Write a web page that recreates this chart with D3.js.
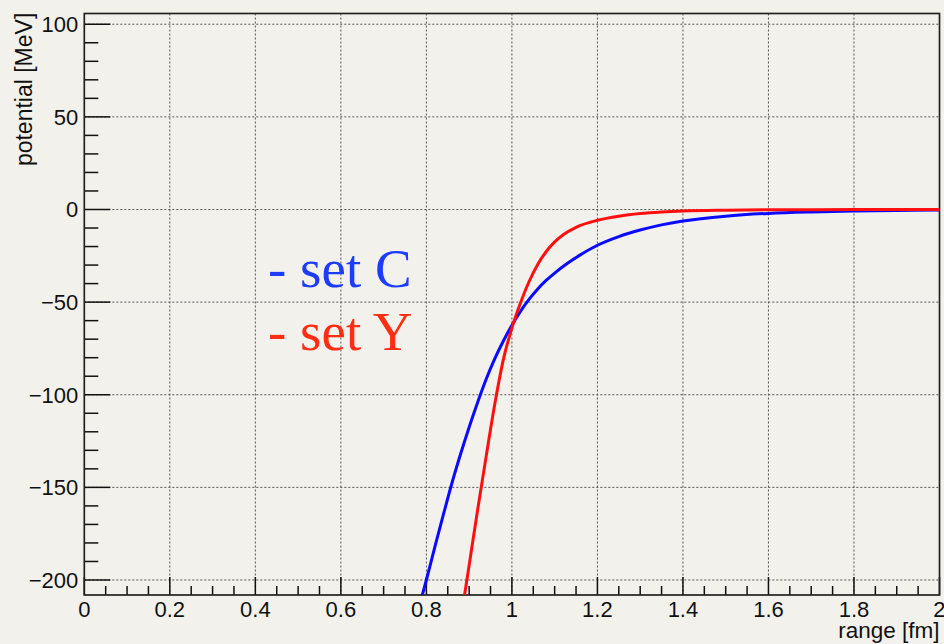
<!DOCTYPE html>
<html>
<head>
<meta charset="utf-8">
<script src="https://cdn.jsdelivr.net/npm/d3@7"></script>
<style>
  body { margin: 0; background: #f3f1ec; }
  svg { display: block; }
</style>
</head>
<body>
<div id="chart"></div>
<script>
// set C (blue)
var setCx = [0.79, 0.80, 0.82, 0.84, 0.86, 0.88, 0.90, 0.92, 0.94, 0.96, 0.98, 1.00, 1.02, 1.04, 1.06, 1.08, 1.10, 1.13, 1.16, 1.20, 1.25, 1.30, 1.35, 1.40, 1.50, 1.60, 1.70, 1.80, 1.90, 2.00];
var setCy = [-208.5, -200, -182, -164.5, -147.5, -132, -117.5, -104, -91.5, -80.5, -71, -62.5, -55, -48.5, -43, -38.3, -34.3, -29, -24.5, -19.3, -14.6, -11.1, -8.3, -6.2, -3.6, -2.1, -1.3, -0.8, -0.5, -0.3];
// set Y (red)
var setYx = [0.88, 0.90, 0.92, 0.94, 0.96, 0.98, 1.00, 1.02, 1.04, 1.06, 1.08, 1.10, 1.12, 1.15, 1.20, 1.25, 1.30, 1.35, 1.40, 1.50, 1.60, 1.80, 2.00];
var setYy = [-222, -192, -162, -133, -105, -81, -64, -50.5, -39, -29.8, -22.8, -17.5, -13.6, -9.6, -5.8, -3.6, -2.2, -1.35, -0.8, -0.35, -0.15, -0.04, 0];

var xTicks = [0, 0.2, 0.4, 0.6, 0.8, 1, 1.2, 1.4, 1.6, 1.8, 2];
var yTicks = [-200, -150, -100, -50, 0, 50, 100];
var legendLabels = ["- set C", "- set Y"];

var width = 944, height = 644;
var margin = {top: 13.5, right: 4.5, bottom: 49, left: 84.3};
var w = width - margin.left - margin.right,
    h = height - margin.top - margin.bottom;

var svg = d3.select("#chart")
  .append("svg")
  .attr("width", width)
  .attr("height", height);

var g = svg.append("g")
  .attr("transform", "translate(" + margin.left + "," + margin.top + ")");

var x = d3.scaleLinear().domain([0, 2]).range([0, w]),
    y = d3.scaleLinear().domain([-208.1, 105.8]).range([h, 0]);

// grid
g.append("g").selectAll("line")
  .data(xTicks.slice(1, -1))
  .enter().append("line")
  .attr("x1", function (d) { return x(d); })
  .attr("x2", function (d) { return x(d); })
  .attr("y1", 0).attr("y2", h)
  .attr("stroke", "#555").attr("stroke-width", 1)
  .attr("stroke-dasharray", "2,2");

g.append("g").selectAll("line")
  .data(yTicks)
  .enter().append("line")
  .attr("y1", function (d) { return y(d); })
  .attr("y2", function (d) { return y(d); })
  .attr("x1", 0).attr("x2", w)
  .attr("stroke", "#555").attr("stroke-width", 1)
  .attr("stroke-dasharray", "2,2");

// minor/major ticks inside the frame
var xMinor = d3.range(0, 2.001, 0.05);
g.append("g").selectAll("line")
  .data(xMinor)
  .enter().append("line")
  .attr("x1", function (d) { return x(d); })
  .attr("x2", function (d) { return x(d); })
  .attr("y1", h)
  .attr("y2", function (d, i) { return h - (i % 4 === 0 ? 18 : 9); })
  .attr("stroke", "#111").attr("stroke-width", 1.5);

var yMinor = d3.range(-200, 100.1, 10);
g.append("g").selectAll("line")
  .data(yMinor)
  .enter().append("line")
  .attr("y1", function (d) { return y(d); })
  .attr("y2", function (d) { return y(d); })
  .attr("x1", 0)
  .attr("x2", function (d) { return d % 50 === 0 ? 26 : 14; })
  .attr("stroke", "#111").attr("stroke-width", 1.5);

// frame
g.append("rect")
  .attr("width", w).attr("height", h)
  .attr("fill", "none")
  .attr("stroke", "#222").attr("stroke-width", 1.7);

// tick labels
g.append("g").selectAll("text")
  .data(xTicks)
  .enter().append("text")
  .attr("x", function (d) { return x(d); })
  .attr("y", h + 22)
  .attr("text-anchor", "middle")
  .style("font", "22px 'Liberation Sans', Arial, sans-serif")
  .attr("fill", "#111")
  .text(function (d) { return String(d); });

g.append("g").selectAll("text")
  .data(yTicks)
  .enter().append("text")
  .attr("x", -6)
  .attr("y", function (d) { return y(d); })
  .attr("dy", "0.36em")
  .attr("text-anchor", "end")
  .style("font", "22px 'Liberation Sans', Arial, sans-serif")
  .attr("fill", "#111")
  .text(function (d) { return d < 0 ? "\u2212" + Math.abs(d) : String(d); });

// axis titles
svg.append("text")
  .attr("x", margin.left + w)
  .attr("y", 638)
  .attr("text-anchor", "end")
  .style("font", "22.5px 'Liberation Sans', Arial, sans-serif")
  .attr("fill", "#111")
  .text("range [fm]");

svg.append("text")
  .attr("transform", "translate(31.5,12.7) rotate(-90)")
  .attr("text-anchor", "end")
  .style("font", "23px 'Liberation Sans', Arial, sans-serif")
  .attr("fill", "#111")
  .text("potential [MeV]");

// curves
var line = d3.line()
  .curve(d3.curveMonotoneX)
  .x(function (d) { return x(d[0]); })
  .y(function (d) { return y(d[1]); });

g.append("clipPath").attr("id", "clip")
  .append("rect").attr("width", w).attr("height", h);

g.append("path")
  .datum(setCx.map(function (v, i) { return [v, setCy[i]]; }))
  .attr("clip-path", "url(#clip)")
  .attr("fill", "none")
  .attr("stroke", "#0a0aff")
  .attr("stroke-width", 3)
  .attr("d", line);

g.append("path")
  .datum(setYx.map(function (v, i) { return [v, setYy[i]]; }))
  .attr("clip-path", "url(#clip)")
  .attr("fill", "none")
  .attr("stroke", "#ff1010")
  .attr("stroke-width", 3)
  .attr("d", line);

// legend text
svg.selectAll(".legend")
  .data(legendLabels)
  .enter().append("text")
  .attr("class", "legend")
  .attr("x", 268)
  .attr("y", function (d, i) { return 287 + i * 63; })
  .style("font", "55px 'Liberation Serif', 'DejaVu Serif', serif")
  .attr("fill", function (d, i) { return i === 0 ? "#1c3cff" : "#ff2d12"; })
  .text(function (d) { return d; });
</script>
</body>
</html>
